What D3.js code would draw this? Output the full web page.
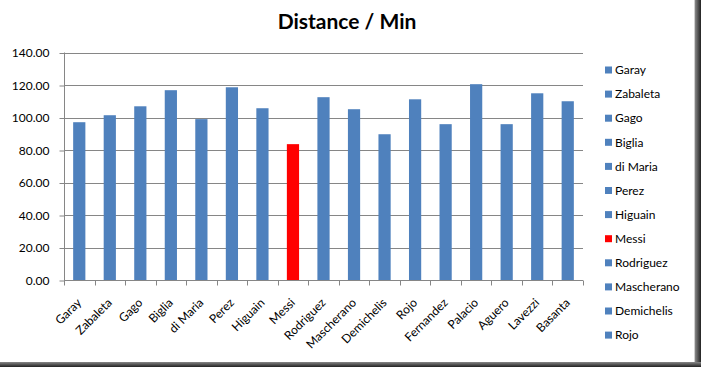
<!DOCTYPE html>
<html><head><meta charset="utf-8">
<script src="https://cdn.jsdelivr.net/npm/d3@7"></script>
<style>body{margin:0;background:#fff}svg{display:block}</style>
</head><body><svg id="c" width="701" height="367"></svg>
<script>
const players = ["Garay","Zabaleta","Gago","Biglia","di Maria","Perez","Higuain","Messi","Rodriguez","Mascherano","Demichelis","Rojo","Fernandez","Palacio","Aguero","Lavezzi","Basanta"];
const distancePerMin = [97.1,101.4,106.9,116.8,99.0,118.6,105.7,83.6,112.5,105.1,89.7,111.2,95.9,120.5,95.9,114.9,110.0];
const highlight = ["Messi"];
const yTicks = [0,20,40,60,80,100,120,140];
const legendItems = players.slice(0,12);
const title = "Distance / Min";

const blue = "#4f81bd", red = "#ff0000";
const font = "Lato, 'Open Sans', sans-serif";
const svg = d3.select("#c");

// frame + shadow
const defs = svg.append("defs");
const sh = defs.append("linearGradient").attr("id","gr").attr("x1",0).attr("x2",1);
sh.append("stop").attr("offset",0).attr("stop-color","#888");
sh.append("stop").attr("offset",1).attr("stop-color","#222");
const sv = defs.append("linearGradient").attr("id","gb").attr("x1",0).attr("x2",0).attr("y1",0).attr("y2",1);
sv.append("stop").attr("offset",0).attr("stop-color","#888");
sv.append("stop").attr("offset",1).attr("stop-color","#222");
svg.append("rect").attr("x",695).attr("y",0).attr("width",6).attr("height",367).attr("fill","url(#gr)");
svg.append("rect").attr("x",0).attr("y",362).attr("width",701).attr("height",5).attr("fill","url(#gb)");
svg.append("line").attr("x1",694.5).attr("x2",694.5).attr("y1",0).attr("y2",362).attr("stroke","#d0d0d0");

const x = d3.scaleBand().domain(players).range([64,583]).paddingInner(0.6).paddingOuter(0.3);
const y = d3.scaleLinear().domain([0,140]).range([280,52.5]);

// gridlines
svg.append("g").selectAll("line").data(yTicks.slice(1)).join("line")
  .attr("x1",64).attr("x2",583).attr("y1",d=>Math.round(y(d))+0.5).attr("y2",d=>Math.round(y(d))+0.5)
  .attr("stroke","#868686").attr("stroke-width",1);

// bars
svg.append("g").selectAll("rect").data(players).join("rect")
  .attr("x",d=>x(d)).attr("width",x.bandwidth())
  .attr("y",(d,i)=>y(distancePerMin[i])).attr("height",(d,i)=>280-y(distancePerMin[i]))
  .attr("fill",d=>highlight.includes(d)?red:blue);

// y axis
const ya = svg.append("g").attr("transform","translate(64.5,0.5)")
  .call(d3.axisLeft(y).tickValues(yTicks).tickFormat(d3.format(".2f")).tickSize(5).tickPadding(10));
ya.select(".domain").attr("stroke","#868686").attr("d","M0,52V280");
ya.selectAll(".tick line").attr("stroke","#868686");
ya.selectAll("text").attr("font-family",font).attr("font-size",12).attr("fill","#000");

// x axis with ticks at boundaries
const xa = svg.append("g").attr("transform","translate(0,280.5)");
xa.append("line").attr("x1",64).attr("x2",583).attr("stroke","#868686");
const bounds = d3.range(players.length+1).map(i=>64+i*(519/players.length));
xa.selectAll("line.t").data(bounds).join("line").attr("class","t")
  .attr("x1",d=>Math.round(d)+0.5).attr("x2",d=>Math.round(d)+0.5).attr("y1",0).attr("y2",5).attr("stroke","#868686");
xa.selectAll("text").data(players).join("text")
  .attr("transform",d=>`translate(${x(d)+x.bandwidth()/2-3},17) rotate(-45)`)
  .attr("text-anchor","end").attr("dy","0.7em")
  .attr("font-family",font).attr("font-size",12).text(d=>d);

// title
svg.append("text").attr("x",347).attr("y",29).attr("text-anchor","middle")
  .attr("font-family",font).attr("font-weight","bold").attr("font-size",21).text(title);

// legend
const lg = svg.append("g").selectAll("g").data(legendItems).join("g")
  .attr("transform",(d,i)=>`translate(605,${70+i*24.1})`);
lg.append("rect").attr("x",0).attr("y",-3.5).attr("width",7).attr("height",7)
  .attr("fill",d=>highlight.includes(d)?red:blue);
lg.append("text").attr("x",10).attr("dy","0.35em").attr("font-family",font).attr("font-size",12).text(d=>d);
</script></body></html>
